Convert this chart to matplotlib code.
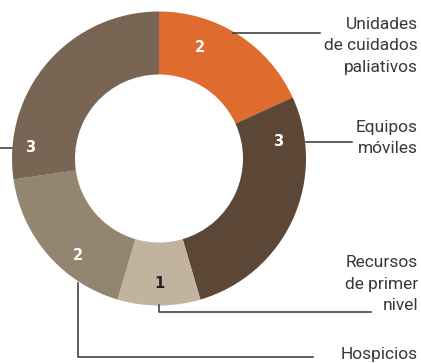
import matplotlib
matplotlib.use("Agg")
from matplotlib import pyplot as plt

plt.rcParams['font.family'] = ['Roboto', 'DejaVu Sans']

categories = ['Unidades\nde cuidados\npaliativos', 'Equipos\nmóviles',
              'Recursos\nde primer\nnivel', 'Hospicios', '']
values = [2, 3, 1, 2, 3]
colors = ['#E06B2F', '#5C4636', '#C1B39E', '#948571', '#786553']
value_colors = ['white', 'white', '#222222', 'white', 'white']

W, H = 421, 363
cx, cy, r_out, ring = 159, 204.5, 147, 63

fig = plt.figure(figsize=(W / 100, H / 100), dpi=100)
ax = fig.add_axes([0, 0, 1, 1])

ax.pie(values, radius=r_out, center=(cx, cy), startangle=90, counterclock=False,
       colors=colors, wedgeprops=dict(width=ring, linewidth=0))
ax.set_xlim(0, W)
ax.set_ylim(0, H)
ax.set_aspect('equal')
ax.axis('off')

# number positions inside the ring
value_pos = [(200, 316), (278, 221), (159, 80), (78, 108), (30, 215)]
for v, (x, y), c in zip(values, value_pos, value_colors):
    ax.text(x, y, str(v), color=c, fontsize=10.5, fontweight='bold',
            ha='center', va='center', family='DejaVu Sans')

# leader lines
line_kw = dict(color='#333333', lw=1.1)
ax.plot([233, 320], [330, 330], **line_kw)
ax.plot([306, 352], [221, 221], **line_kw)
ax.plot([159, 159, 371], [58, 51, 51], **line_kw)
ax.plot([78, 78, 313], [80, 6, 6], **line_kw)
ax.plot([0, 12], [215, 215], **line_kw)

# category labels
label_y = [317, 225, 79, 8]
for lab, y in zip(categories[:4], label_y):
    ax.text(418, y, lab, ha='right', va='center', fontsize=12.5, color='#383838',
            linespacing=1.55)

fig.savefig('out.png', dpi=100)
